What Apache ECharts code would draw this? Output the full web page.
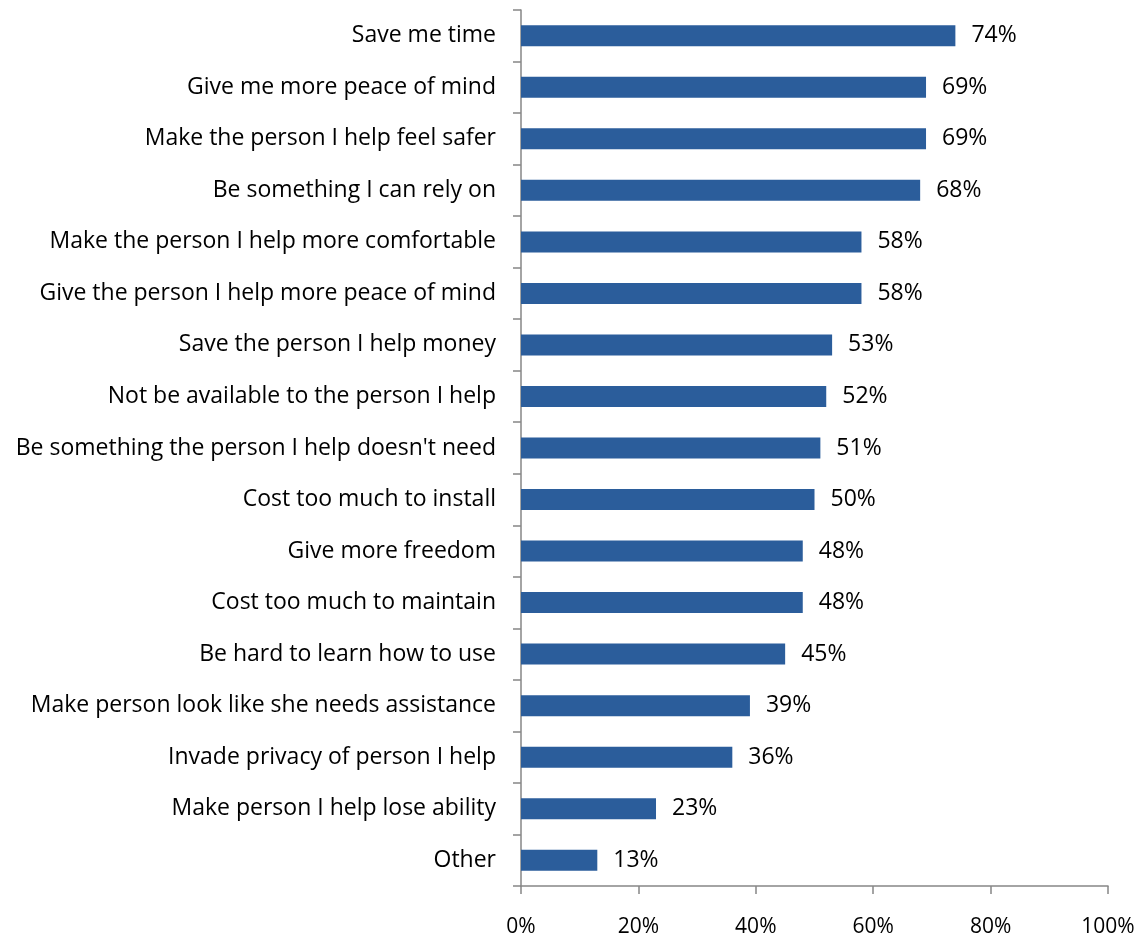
<!DOCTYPE html>
<html>
<head>
<meta charset="utf-8">
<script src="https://cdn.jsdelivr.net/npm/echarts@6/dist/echarts.min.js"></script>
<style>
  html, body { margin: 0; padding: 0; background: #ffffff; }
  #chart { width: 1147px; height: 934px; }
</style>
</head>
<body>
<div id="chart"></div>
<script>
// Survey responses: share of respondents agreeing with each statement
const categories = [
  "Save me time",
  "Give me more peace of mind",
  "Make the person I help feel safer",
  "Be something I can rely on",
  "Make the person I help more comfortable",
  "Give the person I help more peace of mind",
  "Save the person I help money",
  "Not be available to the person I help",
  "Be something the person I help doesn't need",
  "Cost too much to install",
  "Give more freedom",
  "Cost too much to maintain",
  "Be hard to learn how to use",
  "Make person look like she needs assistance",
  "Invade privacy of person I help",
  "Make person I help lose ability",
  "Other"
];
const values = [74, 69, 69, 68, 58, 58, 53, 52, 51, 50, 48, 48, 45, 39, 36, 23, 13];
const xTicks = [0, 20, 40, 60, 80, 100];

const FONT = "'Open Sans', Lato, sans-serif";
const AXIS_COLOR = "#868686";

const chart = echarts.init(document.getElementById("chart"));
chart.setOption({
  animation: false,
  backgroundColor: "#ffffff",
  grid: {
    left: 521, right: 39, top: 10, bottom: 48,
    containLabel: false,
    outerBoundsMode: "none"
  },
  xAxis: {
    type: "value",
    min: xTicks[0],
    max: xTicks[xTicks.length - 1],
    interval: xTicks[1] - xTicks[0],
    splitLine: { show: false },
    axisLine: { show: true, lineStyle: { color: AXIS_COLOR, width: 1.5 } },
    axisTick: { show: true, length: 8, lineStyle: { color: AXIS_COLOR, width: 1.5 } },
    axisLabel: {
      margin: 31,
      color: "#000000",
      fontFamily: FONT,
      fontSize: 21,
      formatter: "{value}%"
    }
  },
  yAxis: {
    type: "category",
    inverse: true,
    data: categories,
    axisLine: { show: true, lineStyle: { color: AXIS_COLOR, width: 1.5 } },
    axisTick: { show: true, length: 8, alignWithLabel: false, lineStyle: { color: AXIS_COLOR, width: 1.5 } },
    axisLabel: {
      margin: 25,
      color: "#000000",
      fontFamily: FONT,
      fontSize: 23
    }
  },
  series: [{
    type: "bar",
    data: values,
    barWidth: 21,
    itemStyle: { color: "#2B5D9B" },
    label: {
      show: true,
      position: "right",
      distance: 16,
      color: "#000000",
      fontFamily: FONT,
      fontSize: 23,
      formatter: p => p.value + "%"
    }
  }]
});
</script>
</body>
</html>
